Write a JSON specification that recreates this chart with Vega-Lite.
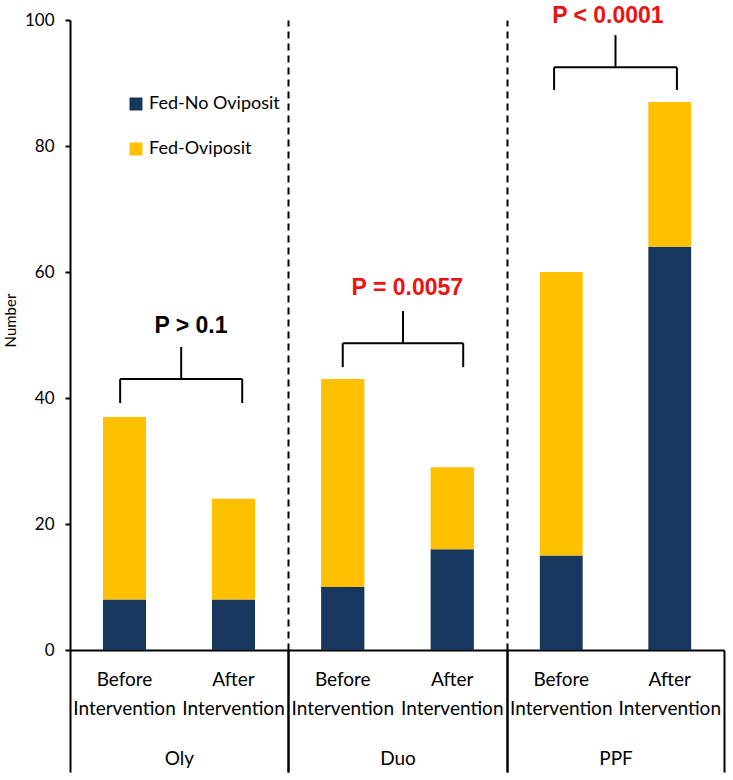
{
  "$schema": "https://vega.github.io/schema/vega-lite/v6.json",
  "padding": {"left": 3, "top": 5, "right": 5, "bottom": 2},
  "background": "white",
  "config": {
    "view": {"stroke": null},
    "font": "Lato",
    "axis": {"labelFont": "Lato", "titleFont": "Lato", "labelColor": "black", "titleColor": "black", "grid": false},
    "axisY": {"titleFontSize": 15, "titleFontWeight": "normal", "titlePadding": 6}
  },
  "datasets": {
    "bars": [
      {"group": "Oly", "period": "Before Intervention", "status": "Fed-No Oviposit", "count": 8},
      {"group": "Oly", "period": "Before Intervention", "status": "Fed-Oviposit", "count": 29},
      {"group": "Oly", "period": "After Intervention", "status": "Fed-No Oviposit", "count": 8},
      {"group": "Oly", "period": "After Intervention", "status": "Fed-Oviposit", "count": 16},
      {"group": "Duo", "period": "Before Intervention", "status": "Fed-No Oviposit", "count": 10},
      {"group": "Duo", "period": "Before Intervention", "status": "Fed-Oviposit", "count": 33},
      {"group": "Duo", "period": "After Intervention", "status": "Fed-No Oviposit", "count": 16},
      {"group": "Duo", "period": "After Intervention", "status": "Fed-Oviposit", "count": 13},
      {"group": "PPF", "period": "Before Intervention", "status": "Fed-No Oviposit", "count": 15},
      {"group": "PPF", "period": "Before Intervention", "status": "Fed-Oviposit", "count": 45},
      {"group": "PPF", "period": "After Intervention", "status": "Fed-No Oviposit", "count": 64},
      {"group": "PPF", "period": "After Intervention", "status": "Fed-Oviposit", "count": 23}
    ],
    "notes": [
      {"group": "Oly", "label": "P > 0.1", "leg": 39.2, "bar": 43.0, "tip": 48.1, "ty": 50.3},
      {"group": "Duo", "label": "P = 0.0057", "leg": 44.9, "bar": 48.7, "tip": 53.8, "ty": 56.3},
      {"group": "PPF", "label": "P < 0.0001", "leg": 88.9, "bar": 92.5, "tip": 97.6, "ty": 99.5}
    ]
  },
  "spacing": 0,
  "bounds": "flush",
  "resolve": {"scale": {"x": "independent", "y": "independent", "color": "independent"}, "axis": {"x": "independent", "y": "independent"}, "legend": {"color": "independent"}},
  "hconcat": [
    {
      "width": 218, "height": 630,
      "layer": [
        {
          "data": {"name": "bars"},
          "transform": [{"filter": "datum.group === 'Oly'"}],
          "mark": {"type": "bar"},
          "encoding": {
            "x": {"field": "period", "type": "nominal", "title": null,
              "scale": {"domain": ["Before Intervention", "After Intervention"], "paddingInner": 0.605, "paddingOuter": 0.3025},
              "axis": {"orient": "bottom", "offset": 0, "domain": true, "domainColor": "black", "domainWidth": 2, "ticks": false, "labelAngle": 0, "labelExpr": "split(datum.label, ' ')", "labelFontSize": 19, "labelLineHeight": 29, "labelPadding": 20, "labelLimit": 300, "title": null}},
            "y": {"field": "count", "type": "quantitative", "stack": "zero",
              "scale": {"domain": [0, 100]},
              "axis": {"values": [0, 20, 40, 60, 80, 100], "domain": true, "domainColor": "black", "domainWidth": 2, "ticks": true, "tickSize": 5, "tickWidth": 2, "tickColor": "black", "labelFontSize": 17, "labelPadding": 11, "title": "Number", "titleFontSize": 15, "titleFontWeight": "normal", "titlePadding": 6, "titleY": 300}},
            "color": {"field": "status", "type": "nominal",
              "scale": {"domain": ["Fed-No Oviposit", "Fed-Oviposit"], "range": ["#17375E", "#FFC000"]},
              "legend": {"orient": "none", "legendX": 57, "legendY": 75, "title": null, "symbolType": "square", "symbolSize": 169, "symbolStrokeWidth": 0, "labelFont": "Lato", "labelFontSize": 18, "labelColor": "black", "labelOffset": 4, "rowPadding": 27}},
            "order": {"field": "status", "sort": "ascending"}
          }
        },
        {
          "data": {"name": "notes"},
          "transform": [{"filter": "datum.group === 'Oly'"}],
          "encoding": {
            "x": {"field": "group", "type": "nominal", "title": null, "bandPosition": 0.23,
              "scale": {"paddingInner": 0, "paddingOuter": 0},
              "axis": {"orient": "bottom", "offset": 0, "domain": false, "ticks": true, "tickBand": "extent", "tickSize": 122, "tickWidth": 2, "tickColor": "black", "labelAngle": 0, "labelFontSize": 19, "labelPadding": -8, "labelBaseline": "alphabetic", "title": null}}
          },
          "layer": [
            {"mark": {"type": "rule", "color": "black", "strokeWidth": 2},
             "encoding": {"y": {"field": "leg", "type": "quantitative"}, "y2": {"field": "bar"}}},
            {"mark": {"type": "rule", "color": "black", "strokeWidth": 2},
             "encoding": {"y": {"field": "bar", "type": "quantitative"}, "x2": {"field": "group", "bandPosition": 0.79}}},
            {"mark": {"type": "rule", "color": "black", "strokeWidth": 2},
             "encoding": {"x": {"field": "group", "type": "nominal", "title": null, "bandPosition": 0.79}, "y": {"field": "leg", "type": "quantitative"}, "y2": {"field": "bar"}}},
            {"mark": {"type": "rule", "color": "black", "strokeWidth": 2},
             "encoding": {"x": {"field": "group", "type": "nominal", "title": null, "bandPosition": 0.51}, "y": {"field": "bar", "type": "quantitative"}, "y2": {"field": "tip"}}},
            {"mark": {"type": "text", "font": "Liberation Sans", "fontWeight": "bold", "fontSize": 23, "color": "black", "align": "center", "baseline": "alphabetic"},
             "encoding": {"x": {"field": "group", "type": "nominal", "title": null, "bandPosition": 0.555}, "y": {"field": "ty", "type": "quantitative"}, "text": {"field": "label"}}}
          ]
        }
      ],
      "resolve": {"scale": {"x": "independent"}, "axis": {"x": "independent"}}
    },
    {
      "width": 219, "height": 630,
      "layer": [
        {
          "data": {"name": "bars"},
          "transform": [{"filter": "datum.group === 'Duo'"}],
          "mark": {"type": "bar"},
          "encoding": {
            "x": {"field": "period", "type": "nominal", "title": null,
              "scale": {"domain": ["Before Intervention", "After Intervention"], "paddingInner": 0.605, "paddingOuter": 0.3025},
              "axis": {"orient": "bottom", "offset": 0, "domain": true, "domainColor": "black", "domainWidth": 2, "ticks": false, "labelAngle": 0, "labelExpr": "split(datum.label, ' ')", "labelFontSize": 19, "labelLineHeight": 29, "labelPadding": 20, "labelLimit": 300, "title": null}},
            "y": {"field": "count", "type": "quantitative", "stack": "zero",
              "scale": {"domain": [0, 100]},
              "axis": {"domain": true, "domainColor": "black", "domainWidth": 2, "domainDash": [7, 5], "ticks": false, "labels": false, "title": null}},
            "color": {"field": "status", "type": "nominal",
              "scale": {"domain": ["Fed-No Oviposit", "Fed-Oviposit"], "range": ["#17375E", "#FFC000"]},
              "legend": null},
            "order": {"field": "status", "sort": "ascending"}
          }
        },
        {
          "data": {"name": "notes"},
          "transform": [{"filter": "datum.group === 'Duo'"}],
          "encoding": {
            "x": {"field": "group", "type": "nominal", "title": null, "bandPosition": 0.25,
              "scale": {"paddingInner": 0, "paddingOuter": 0},
              "axis": {"orient": "bottom", "offset": 0, "domain": false, "ticks": true, "tickBand": "extent", "tickSize": 122, "tickWidth": 2, "tickColor": "black", "labelAngle": 0, "labelFontSize": 19, "labelPadding": -8, "labelBaseline": "alphabetic", "title": null}}
          },
          "layer": [
            {"mark": {"type": "rule", "color": "black", "strokeWidth": 2},
             "encoding": {"y": {"field": "leg", "type": "quantitative"}, "y2": {"field": "bar"}}},
            {"mark": {"type": "rule", "color": "black", "strokeWidth": 2},
             "encoding": {"y": {"field": "bar", "type": "quantitative"}, "x2": {"field": "group", "bandPosition": 0.8}}},
            {"mark": {"type": "rule", "color": "black", "strokeWidth": 2},
             "encoding": {"x": {"field": "group", "type": "nominal", "title": null, "bandPosition": 0.8}, "y": {"field": "leg", "type": "quantitative"}, "y2": {"field": "bar"}}},
            {"mark": {"type": "rule", "color": "black", "strokeWidth": 2},
             "encoding": {"x": {"field": "group", "type": "nominal", "title": null, "bandPosition": 0.525}, "y": {"field": "bar", "type": "quantitative"}, "y2": {"field": "tip"}}},
            {"mark": {"type": "text", "font": "Liberation Sans", "fontWeight": "bold", "fontSize": 23, "color": "#EE1111", "align": "center", "baseline": "alphabetic"},
             "encoding": {"x": {"field": "group", "type": "nominal", "title": null, "bandPosition": 0.545}, "y": {"field": "ty", "type": "quantitative"}, "text": {"field": "label"}}}
          ]
        }
      ],
      "resolve": {"scale": {"x": "independent"}, "axis": {"x": "independent"}}
    },
    {
      "width": 217, "height": 630,
      "layer": [
        {
          "data": {"name": "bars"},
          "transform": [{"filter": "datum.group === 'PPF'"}],
          "mark": {"type": "bar"},
          "encoding": {
            "x": {"field": "period", "type": "nominal", "title": null,
              "scale": {"domain": ["Before Intervention", "After Intervention"], "paddingInner": 0.605, "paddingOuter": 0.3025},
              "axis": {"orient": "bottom", "offset": 0, "domain": true, "domainColor": "black", "domainWidth": 2, "ticks": false, "labelAngle": 0, "labelExpr": "split(datum.label, ' ')", "labelFontSize": 19, "labelLineHeight": 29, "labelPadding": 20, "labelLimit": 300, "title": null}},
            "y": {"field": "count", "type": "quantitative", "stack": "zero",
              "scale": {"domain": [0, 100]},
              "axis": {"domain": true, "domainColor": "black", "domainWidth": 2, "domainDash": [7, 5], "ticks": false, "labels": false, "title": null}},
            "color": {"field": "status", "type": "nominal",
              "scale": {"domain": ["Fed-No Oviposit", "Fed-Oviposit"], "range": ["#17375E", "#FFC000"]},
              "legend": null},
            "order": {"field": "status", "sort": "ascending"}
          }
        },
        {
          "data": {"name": "notes"},
          "transform": [{"filter": "datum.group === 'PPF'"}],
          "encoding": {
            "x": {"field": "group", "type": "nominal", "title": null, "bandPosition": 0.217,
              "scale": {"paddingInner": 0, "paddingOuter": 0},
              "axis": {"orient": "bottom", "offset": 0, "domain": false, "ticks": true, "tickBand": "extent", "tickSize": 122, "tickWidth": 2, "tickColor": "black", "labelAngle": 0, "labelFontSize": 19, "labelPadding": -8, "labelBaseline": "alphabetic", "title": null}}
          },
          "layer": [
            {"mark": {"type": "rule", "color": "black", "strokeWidth": 2},
             "encoding": {"y": {"field": "leg", "type": "quantitative"}, "y2": {"field": "bar"}}},
            {"mark": {"type": "rule", "color": "black", "strokeWidth": 2},
             "encoding": {"y": {"field": "bar", "type": "quantitative"}, "x2": {"field": "group", "bandPosition": 0.783}}},
            {"mark": {"type": "rule", "color": "black", "strokeWidth": 2},
             "encoding": {"x": {"field": "group", "type": "nominal", "title": null, "bandPosition": 0.783}, "y": {"field": "leg", "type": "quantitative"}, "y2": {"field": "bar"}}},
            {"mark": {"type": "rule", "color": "black", "strokeWidth": 2},
             "encoding": {"x": {"field": "group", "type": "nominal", "title": null, "bandPosition": 0.5}, "y": {"field": "bar", "type": "quantitative"}, "y2": {"field": "tip"}}},
            {"mark": {"type": "text", "font": "Liberation Sans", "fontWeight": "bold", "fontSize": 23, "color": "#EE1111", "align": "center", "baseline": "alphabetic"},
             "encoding": {"x": {"field": "group", "type": "nominal", "title": null, "bandPosition": 0.465}, "y": {"field": "ty", "type": "quantitative"}, "text": {"field": "label"}}}
          ]
        }
      ],
      "resolve": {"scale": {"x": "independent"}, "axis": {"x": "independent"}}
    }
  ]
}
